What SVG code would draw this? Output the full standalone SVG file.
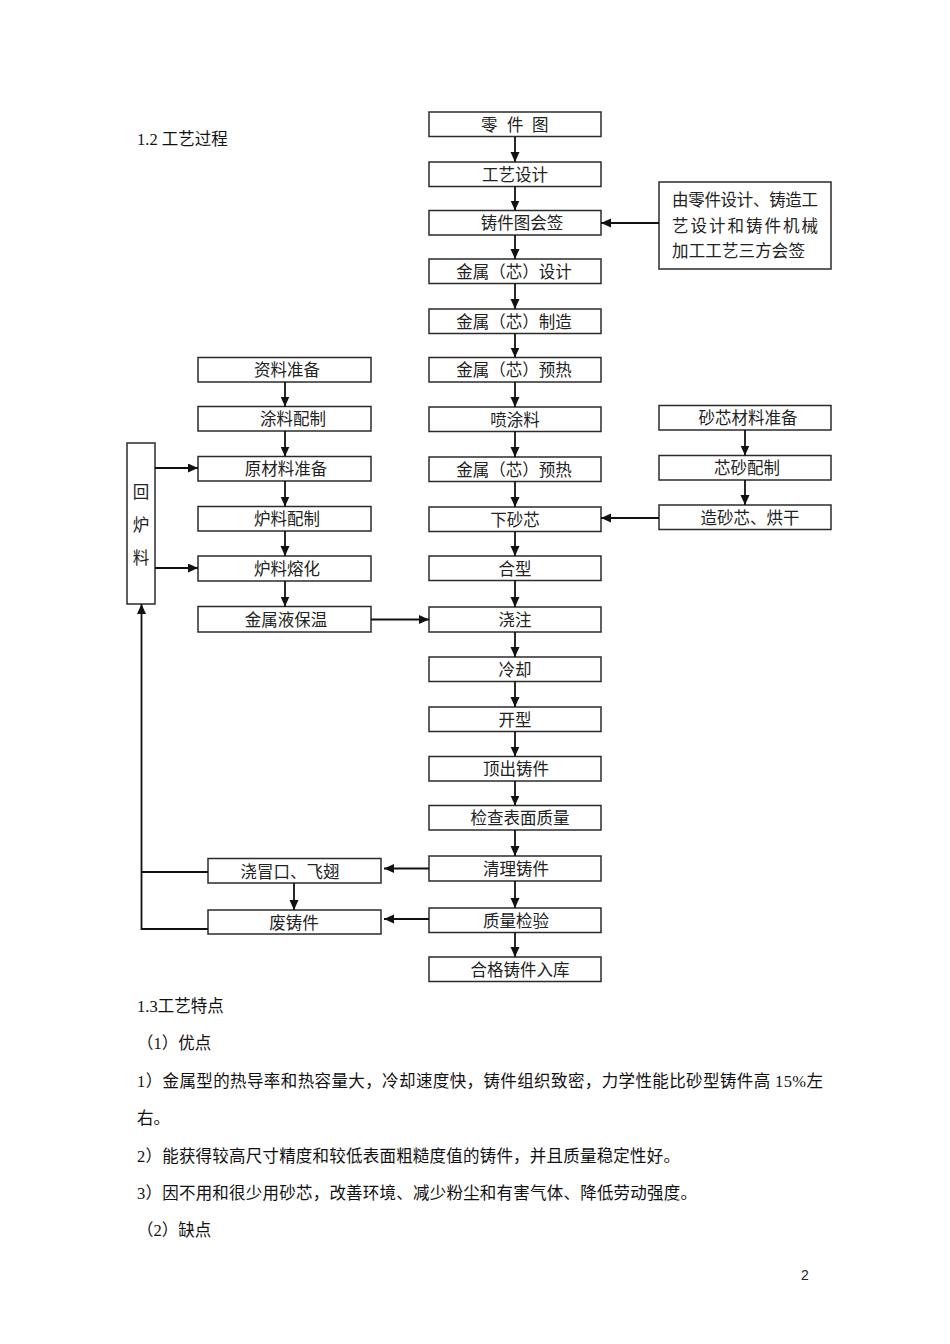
<svg xmlns="http://www.w3.org/2000/svg" width="950" height="1344" viewBox="0 0 950 1344">
<style>
  .bx { fill: #ffffff; stroke: #2b2b2b; stroke-width: 1.5; }
  .t { font-family: "Liberation Serif", "Noto Sans CJK SC", serif; font-size: 16.5px; fill: #222; text-anchor: middle; }
  .tl { font-family: "Liberation Serif", "Noto Sans CJK SC", serif; font-size: 16.5px; fill: #222; }
  .body { font-family: "Liberation Serif", "Noto Sans CJK SC", serif; font-size: 16.5px; fill: #111; }
  .c { fill: none; stroke: #111; stroke-width: 1.8; }
  .ca { fill: none; stroke: #111; stroke-width: 1.8; marker-end: url(#ah); }
</style>
<defs>
  <marker id="ah" markerUnits="userSpaceOnUse" markerWidth="11" markerHeight="10" refX="10" refY="4.5" orient="auto">
    <path d="M0,0 L10,4.5 L0,9 z" fill="#111"/>
  </marker>
</defs>
<rect width="950" height="1344" fill="#ffffff"/>

<text class="body" x="137" y="145">1.2 工艺过程</text>

<!-- center column -->
<g id="n1"><rect class="bx" x="429" y="112" width="172" height="24.5"/><text class="tl" x="481 507 532" y="130.5">零件图</text></g>
<g id="n2"><rect class="bx" x="429" y="162" width="172" height="24.5"/><text class="t" x="515" y="180.5">工艺设计</text></g>
<g id="n3"><rect class="bx" x="429" y="210.5" width="172" height="24.5"/><text class="t" x="522" y="229">铸件图会签</text></g>
<g id="n4"><rect class="bx" x="429" y="259" width="172" height="24.5"/><text class="t" x="514" y="277.5">金属（芯）设计</text></g>
<g id="n5"><rect class="bx" x="429" y="309" width="172" height="24.5"/><text class="t" x="514" y="327.5">金属（芯）制造</text></g>
<g id="n6"><rect class="bx" x="429" y="357.5" width="172" height="24.5"/><text class="t" x="514" y="376">金属（芯）预热</text></g>
<g id="n7"><rect class="bx" x="429" y="407" width="172" height="24.5"/><text class="t" x="515" y="425.5">喷涂料</text></g>
<g id="n8"><rect class="bx" x="429" y="457" width="172" height="24.5"/><text class="t" x="514" y="475.5">金属（芯）预热</text></g>
<g id="n9"><rect class="bx" x="429" y="507" width="172" height="24.5"/><text class="t" x="515" y="525.5">下砂芯</text></g>
<g id="n10"><rect class="bx" x="429" y="556" width="172" height="24.5"/><text class="t" x="515" y="574.5">合型</text></g>
<g id="n11"><rect class="bx" x="429" y="607" width="172" height="25"/><text class="t" x="515" y="625.5">浇注</text></g>
<g id="n12"><rect class="bx" x="429" y="657" width="172" height="24.5"/><text class="t" x="515" y="675.5">冷却</text></g>
<g id="n13"><rect class="bx" x="429" y="707" width="172" height="24.5"/><text class="t" x="515" y="725.5">开型</text></g>
<g id="n14"><rect class="bx" x="429" y="756.5" width="172" height="24.5"/><text class="t" x="516" y="775">顶出铸件</text></g>
<g id="n15"><rect class="bx" x="429" y="805.5" width="172" height="24.5"/><text class="t" x="520" y="824">检查表面质量</text></g>
<g id="n16"><rect class="bx" x="429" y="856" width="172" height="25"/><text class="t" x="516" y="874.5">清理铸件</text></g>
<g id="n17"><rect class="bx" x="429" y="908" width="172" height="24.5"/><text class="t" x="516" y="926.5">质量检验</text></g>
<g id="n18"><rect class="bx" x="429" y="957" width="172" height="24.5"/><text class="t" x="520" y="975.5">合格铸件入库</text></g>

<!-- left column -->
<g id="l1"><rect class="bx" x="198" y="357.5" width="173" height="24.5"/><text class="t" x="287" y="376">资料准备</text></g>
<g id="l2"><rect class="bx" x="198" y="406.5" width="173" height="24.5"/><text class="t" x="293" y="425">涂料配制</text></g>
<g id="l3"><rect class="bx" x="198" y="456.5" width="173" height="24.5"/><text class="t" x="286" y="475">原材料准备</text></g>
<g id="l4"><rect class="bx" x="198" y="506.5" width="173" height="24.5"/><text class="t" x="287" y="525">炉料配制</text></g>
<g id="l5"><rect class="bx" x="198" y="556" width="173" height="25"/><text class="t" x="287" y="575">炉料熔化</text></g>
<g id="l6"><rect class="bx" x="198" y="606.5" width="173" height="25.5"/><text class="t" x="286" y="625.5">金属液保温</text></g>

<!-- return material -->
<g id="hl"><rect class="bx" x="127" y="443" width="28" height="161"/>
  <text class="t" x="141" y="498">回</text><text class="t" x="141" y="531">炉</text><text class="t" x="141" y="564">料</text></g>

<!-- right column -->
<g id="r1"><rect class="bx" x="659" y="405.5" width="172" height="24.5"/><text class="t" x="748" y="424">砂芯材料准备</text></g>
<g id="r2"><rect class="bx" x="659" y="455.5" width="172" height="24.5"/><text class="t" x="747" y="474">芯砂配制</text></g>
<g id="r3"><rect class="bx" x="659" y="505" width="172" height="24.5"/><text class="t" x="750" y="523.5">造砂芯、烘干</text></g>

<!-- note -->
<g id="note"><rect class="bx" x="659" y="182" width="172" height="87"/>
  <text class="tl" x="672" y="206" textLength="146" lengthAdjust="spacing">由零件设计、铸造工</text>
  <text class="tl" x="672" y="232" textLength="146" lengthAdjust="spacing">艺设计和铸件机械</text>
  <text class="tl" x="672" y="257" textLength="133" lengthAdjust="spacing">加工工艺三方会签</text></g>

<!-- bottom left -->
<g id="b1"><rect class="bx" x="208" y="858.5" width="173" height="24.5"/><text class="t" x="290" y="877.5">浇冒口、飞翅</text></g>
<g id="b2"><rect class="bx" x="208" y="910" width="173" height="24"/><text class="t" x="294" y="928.5">废铸件</text></g>

<!-- connectors -->
<g id="connectors">
  <path class="ca" d="M515,136.5 V162"/>
  <path class="ca" d="M515,186.5 V210.5"/>
  <path class="ca" d="M515,235 V259"/>
  <path class="ca" d="M515,283.5 V309"/>
  <path class="ca" d="M515,333.5 V357.5"/>
  <path class="ca" d="M515,382 V407"/>
  <path class="ca" d="M515,431.5 V457"/>
  <path class="ca" d="M515,481.5 V507"/>
  <path class="ca" d="M515,531.5 V556"/>
  <path class="ca" d="M515,580.5 V607"/>
  <path class="ca" d="M515,632 V657"/>
  <path class="ca" d="M515,681.5 V707"/>
  <path class="ca" d="M515,731.5 V756.5"/>
  <path class="ca" d="M515,781 V805.5"/>
  <path class="ca" d="M515,830 V856"/>
  <path class="ca" d="M515,881 V908"/>
  <path class="ca" d="M515,932.5 V957"/>

  <path class="ca" d="M285,382 V406.5"/>
  <path class="ca" d="M285,431 V456.5"/>
  <path class="ca" d="M285,481 V506.5"/>
  <path class="ca" d="M285,531 V556"/>
  <path class="ca" d="M285,581 V606.5"/>

  <path class="ca" d="M745,430 V455.5"/>
  <path class="ca" d="M745,480 V505"/>

  <path class="ca" d="M659,223 H601"/>
  <path class="ca" d="M659,518 H601"/>
  <path class="ca" d="M371,619.5 H429"/>
  <path class="ca" d="M155,468 H198"/>
  <path class="ca" d="M155,568 H198"/>

  <path class="ca" d="M429,868.5 H384"/>
  <path class="ca" d="M429,919 H384"/>
  <path class="ca" d="M294,883 V910"/>

  <path class="c" d="M208,872 H141.5"/>
  <path class="ca" d="M208,929 H141.5 V604"/>
</g>

<!-- body text -->
<text class="body" x="137" y="1012">1.3工艺特点</text>
<text class="body" x="137" y="1049">（1）优点</text>
<text class="body" x="137" y="1087" textLength="686" lengthAdjust="spacing">1）金属型的热导率和热容量大，冷却速度快，铸件组织致密，力学性能比砂型铸件高 15%左</text>
<text class="body" x="137" y="1124">右。</text>
<text class="body" x="137" y="1162" textLength="543" lengthAdjust="spacing">2）能获得较高尺寸精度和较低表面粗糙度值的铸件，并且质量稳定性好。</text>
<text class="body" x="137" y="1199" textLength="560" lengthAdjust="spacing">3）因不用和很少用砂芯，改善环境、减少粉尘和有害气体、降低劳动强度。</text>
<text class="body" x="137" y="1236">（2）缺点</text>

<text x="805" y="1280" style="font-family: 'Liberation Sans', sans-serif; font-size: 14px; fill: #222;" text-anchor="middle">2</text>
</svg>
